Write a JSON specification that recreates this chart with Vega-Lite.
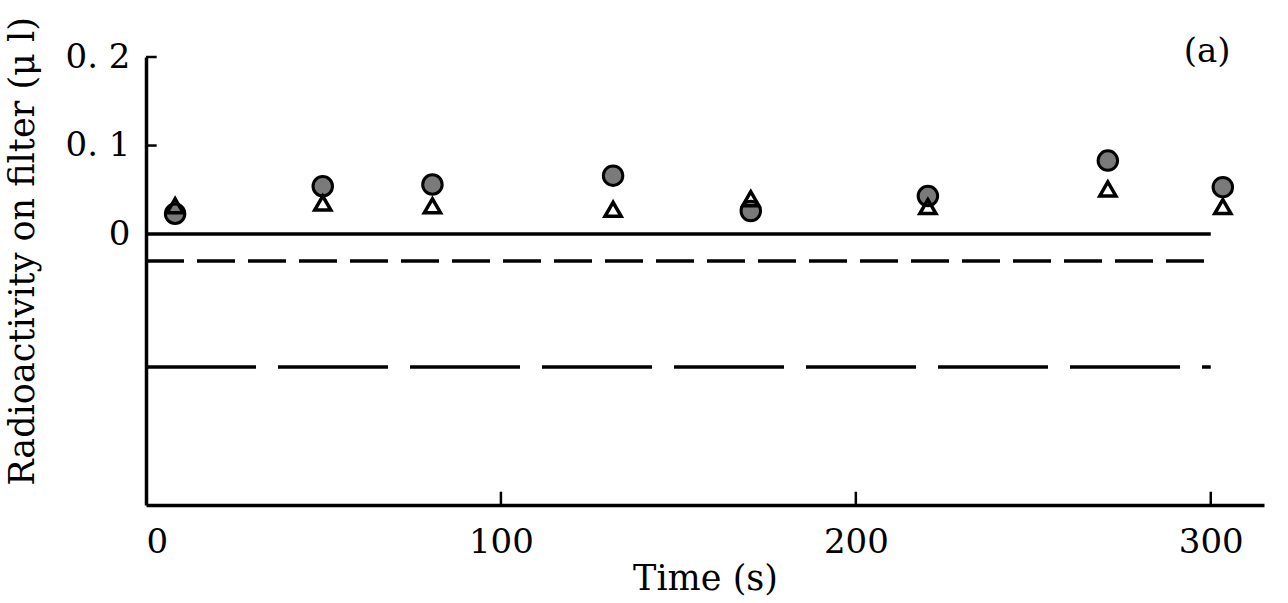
{
  "$schema": "https://vega.github.io/schema/vega-lite/v6.json",
  "width": 1118,
  "height": 448,
  "autosize": "none",
  "padding": {"left": 146, "top": 57, "right": 24, "bottom": 98},
  "background": "white",
  "config": {"view": {"stroke": null}, "font": "DejaVu Serif"},
  "datasets": {
    "xticks": [{"t": 100, "v0": -0.306, "v1": -0.291}, {"t": 200, "v0": -0.306, "v1": -0.291}, {"t": 300, "v0": -0.306, "v1": -0.291}],
    "yticks": [{"t0": 0, "t1": 3, "v": 0.2}, {"t0": 0, "t1": 3, "v": 0.1}]
  },
  "layer": [
    {
      "data": {"values": [{"t": 0, "v": 0}, {"t": 300, "v": 0}]},
      "mark": {"type": "line", "color": "black", "strokeWidth": 3.5},
      "encoding": {
        "x": {"field": "t", "type": "quantitative", "scale": {"domain": [0, 315], "nice": false}},
        "y": {"field": "v", "type": "quantitative", "scale": {"domain": [-0.306, 0.2], "nice": false}}
      }
    },
    {
      "data": {"values": [{"t": 0, "v": -0.0305}, {"t": 299, "v": -0.0305}]},
      "mark": {"type": "line", "color": "black", "strokeWidth": 3.5, "strokeDash": [38, 13]},
      "encoding": {
        "x": {"field": "t", "type": "quantitative"},
        "y": {"field": "v", "type": "quantitative"}
      }
    },
    {
      "data": {"values": [{"t": 0, "v": -0.15}, {"t": 300, "v": -0.15}]},
      "mark": {"type": "line", "color": "black", "strokeWidth": 3.5, "strokeDash": [110, 22]},
      "encoding": {
        "x": {"field": "t", "type": "quantitative"},
        "y": {"field": "v", "type": "quantitative"}
      }
    },
    {
      "data": {"name": "xticks"},
      "mark": {"type": "rule", "color": "black", "strokeWidth": 2.5},
      "encoding": {
        "x": {"field": "t", "type": "quantitative"},
        "y": {"field": "v0", "type": "quantitative"},
        "y2": {"field": "v1"}
      }
    },
    {
      "data": {"name": "yticks"},
      "mark": {"type": "rule", "color": "black", "strokeWidth": 2.5},
      "encoding": {
        "x": {"field": "t0", "type": "quantitative"},
        "x2": {"field": "t1"},
        "y": {"field": "v", "type": "quantitative"}
      }
    },
    {
      "data": {"values": [
        {"t": 8.2, "v": 0.023, "series": "circle"},
        {"t": 49.8, "v": 0.054, "series": "circle"},
        {"t": 80.7, "v": 0.056, "series": "circle"},
        {"t": 131.6, "v": 0.066, "series": "circle"},
        {"t": 170.4, "v": 0.026, "series": "circle"},
        {"t": 220.3, "v": 0.043, "series": "circle"},
        {"t": 271, "v": 0.083, "series": "circle"},
        {"t": 303.4, "v": 0.053, "series": "circle"}
      ]},
      "mark": {"type": "point", "shape": "circle", "filled": true, "fill": "#7a7a7a", "stroke": "black", "strokeWidth": 3, "size": 380, "opacity": 1},
      "encoding": {
        "x": {"field": "t", "type": "quantitative", "title": "Time (s)",
          "axis": {"values": [0, 100, 200, 300], "grid": false, "ticks": false, "labelFontSize": 34, "labelColor": "black",
            "domainColor": "black", "domainWidth": 3.5,
            "labelPadding": 20, "titleFontSize": 35, "titleFontWeight": "normal", "titleColor": "black", "titlePadding": 2}},
        "y": {"field": "v", "type": "quantitative", "title": "Radioactivity on filter (μ l)",
          "axis": {"values": [0, 0.1, 0.2], "grid": false, "ticks": false, "labelFontSize": 34, "labelColor": "black",
            "labelExpr": "datum.value == 0 ? '0' : replace(format(datum.value, '.1f'), '.', '. ')",
            "domainColor": "black", "domainWidth": 3.5,
            "labelPadding": 16, "titleFontSize": 35, "titleFontWeight": "normal", "titleColor": "black",
            "titleX": -124, "titleY": 194, "titleBaseline": "middle"}}
      }
    },
    {
      "data": {"values": [
        {"t": 8.2, "v": 0.032, "series": "triangle"},
        {"t": 49.8, "v": 0.035, "series": "triangle"},
        {"t": 80.7, "v": 0.032, "series": "triangle"},
        {"t": 131.6, "v": 0.028, "series": "triangle"},
        {"t": 170.4, "v": 0.040, "series": "triangle"},
        {"t": 220.3, "v": 0.031, "series": "triangle"},
        {"t": 271, "v": 0.051, "series": "triangle"},
        {"t": 303.4, "v": 0.031, "series": "triangle"}
      ]},
      "mark": {"type": "point", "shape": "triangle-up", "filled": false, "stroke": "black", "strokeWidth": 3.5, "size": 260, "opacity": 1},
      "encoding": {
        "x": {"field": "t", "type": "quantitative"},
        "y": {"field": "v", "type": "quantitative"}
      }
    },
    {
      "data": {"values": [{"t": 299, "v": 0.206, "label": "(a)"}]},
      "mark": {"type": "text", "fontSize": 34, "color": "black", "baseline": "middle", "align": "center"},
      "encoding": {
        "x": {"field": "t", "type": "quantitative"},
        "y": {"field": "v", "type": "quantitative"},
        "text": {"field": "label"}
      }
    }
  ]
}
